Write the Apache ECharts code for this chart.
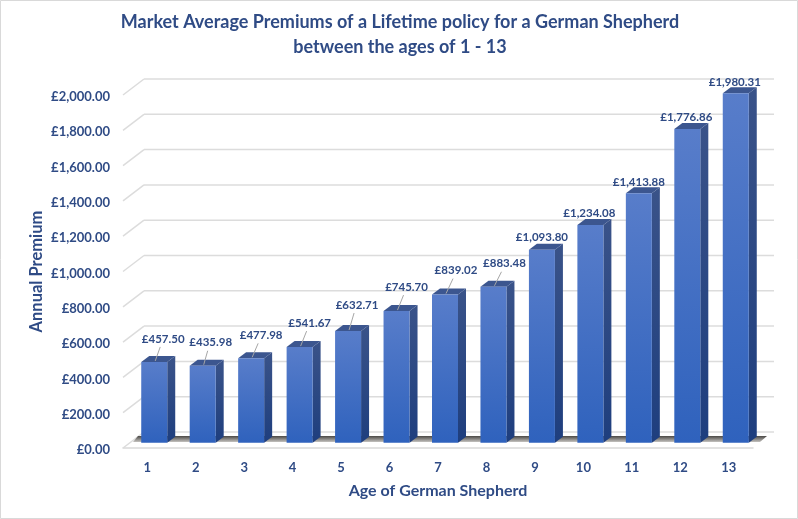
<!DOCTYPE html>
<html>
<head>
<meta charset="utf-8">
<style>
  html, body { margin: 0; padding: 0; background: #fff; }
  #chart { width: 798px; height: 519px; }
</style>
<script src="https://cdn.jsdelivr.net/npm/echarts@6/dist/echarts.min.js"></script>
</head>
<body>
<div id="chart"></div>
<script>
const ages = ['1', '2', '3', '4', '5', '6', '7', '8', '9', '10', '11', '12', '13'];
const premiums = [457.50, 435.98, 477.98, 541.67, 632.71, 745.70, 839.02, 883.48, 1093.80, 1234.08, 1413.88, 1776.86, 1980.31];
const yTicks = [0, 200, 400, 600, 800, 1000, 1200, 1400, 1600, 1800, 2000];
// label offset from the top of each bar, [dx, dy]
const labelShift = [[7, -23], [6, -23], [8, -23], [8, -24], [7, -26], [8, -24], [9, -24], [9, -23], [-2, -12], [-3, -12], [-2, -11], [-3, -12], [-3, -11]];
const hasLeader = [true, true, true, true, true, true, true, true, false, false, false, false, false];

const FONT = 'Lato, "Open Sans", sans-serif';
const NAVY = '#2f4b85';
const WALL = [21, -16];  // floor depth, front edge to back wall
const BAR_IN = [7, -5.3];  // bar front face sits this far inside the floor
const BAR_W = 26;
const BAR_DX = 8;
const BAR_DY = -6;

function money(v) {
  return '£' + v.toLocaleString('en-GB', {minimumFractionDigits: 2, maximumFractionDigits: 2});
}

function fade(a, b) {
  return new echarts.graphic.LinearGradient(0, 0, 0, 1, [{offset: 0, color: a}, {offset: 1, color: b}]);
}

// left wall diagonal + back wall gridline for one tick
function renderWall(params, api) {
  const box = params.coordSys;
  const y = api.coord([0, api.value(0)])[1];
  const style = {stroke: '#dcdcdc', lineWidth: 1.5};
  return {
    type: 'group',
    children: [
      {type: 'line', shape: {x1: box.x, y1: y, x2: box.x + WALL[0], y2: y + WALL[1]}, style: style},
      {type: 'line', shape: {x1: box.x + WALL[0], y1: y + WALL[1], x2: box.x + box.width + WALL[0], y2: y + WALL[1]}, style: style}
    ]
  };
}

// shadow on the floor, only one item
function renderShadow(params, api) {
  const box = params.coordSys;
  const y = api.coord([0, 0])[1];
  return {
    type: 'polygon',
    shape: {points: [
      [box.x + 10, y - 6], [box.x + 15, y - 12],
      [box.x + box.width + 14, y - 12], [box.x + box.width + 7, y - 6]
    ]},
    style: {fill: fade('#4a4845', '#c4c2bf')}
  };
}

function renderBar(params, api) {
  const i = api.value(0);
  const v = api.value(1);
  const top = api.coord([i, v]);
  const base = api.coord([i, 0]);
  const x0 = top[0] + BAR_IN[0] - BAR_W / 2;
  const x1 = x0 + BAR_W;
  const y0 = top[1] + BAR_IN[1];
  const y1 = base[1] + BAR_IN[1];
  const shift = labelShift[i];
  const lx = top[0] + BAR_IN[0] + shift[0] + 2;
  const ly = y0 + shift[1];
  const children = [
    {type: 'polygon', shape: {points: [[x1, y0], [x1 + BAR_DX, y0 + BAR_DY], [x1 + BAR_DX, y1 + BAR_DY], [x1, y1]]},
      style: {fill: fade('#3a5389', '#1e3e7e')}},
    {type: 'polygon', shape: {points: [[x0, y0], [x0 + BAR_DX, y0 + BAR_DY], [x1 + BAR_DX, y0 + BAR_DY], [x1, y0]]},
      style: {fill: '#3c568f'}},
    {type: 'rect', shape: {x: x0, y: y0, width: BAR_W, height: y1 - y0},
      style: {fill: fade('#587dca', '#2f62bd')}}
  ];
  if (hasLeader[i]) {
    children.push({type: 'line', shape: {x1: x0 + 14, y1: y0 - 1, x2: lx - 3, y2: ly + 8},
      style: {stroke: '#a6a6a6', lineWidth: 1}});
  }
  children.push({type: 'text', style: {
    x: lx, y: ly, text: money(v), align: 'center', verticalAlign: 'middle',
    font: 'bold 11.5px ' + FONT, fill: NAVY
  }});
  return {type: 'group', children: children};
}

const myChart = echarts.init(document.getElementById('chart'));
myChart.setOption({
  animation: false,
  backgroundColor: '#fff',
  title: {
    text: 'Market Average Premiums of a Lifetime policy for a German Shepherd\nbetween the ages of 1 - 13',
    left: 395,
    top: 5,
    textAlign: 'center',
    textStyle: {fontFamily: FONT, fontSize: 18, fontWeight: 'bold', color: NAVY, lineHeight: 25}
  },
  grid: {left: 123, right: 45, top: 95, bottom: 71},
  xAxis: {
    type: 'category',
    data: ages,
    name: 'Age of German Shepherd',
    nameLocation: 'middle',
    nameGap: 35,
    nameMoveOverlap: false,
    nameTextStyle: {fontFamily: FONT, fontSize: 16, fontWeight: 'bold', color: NAVY},
    axisLine: {show: true, lineStyle: {color: '#d9d9d9', width: 1.5}},
    axisTick: {show: false},
    axisLabel: {margin: 13, fontFamily: FONT, fontSize: 13, fontWeight: 'bold', color: NAVY}
  },
  yAxis: {
    type: 'value',
    min: 0,
    max: 2000,
    interval: 200,
    name: 'Annual Premium',
    nameLocation: 'middle',
    nameGap: 78,
    nameMoveOverlap: false,
    nameTextStyle: {fontFamily: FONT, fontSize: 16.5, fontWeight: 'bold', color: NAVY},
    axisLine: {show: false},
    axisTick: {show: false},
    splitLine: {show: false},
    axisLabel: {margin: 13, verticalAlign: 'top', lineHeight: 4, fontFamily: FONT, fontSize: 13, fontWeight: 'bold', color: NAVY, formatter: money}
  },
  series: [
    {type: 'custom', renderItem: renderWall, data: yTicks.map(function(v) { return [v]; }), clip: false, silent: true, z: 1,
      encode: {x: -1, y: 0}},
    {type: 'custom', renderItem: renderShadow, data: [[0]], clip: false, silent: true, z: 2, encode: {x: -1, y: 0}},
    {type: 'custom', renderItem: renderBar, data: premiums.map(function(v, i) { return [i, v]; }), clip: false, silent: true, z: 3,
      encode: {x: 0, y: 1}}
  ],
  graphic: [{
    type: 'rect',
    shape: {x: 0.5, y: 0.5, width: 797, height: 518},
    style: {fill: 'none', stroke: '#d9d9d9', lineWidth: 1},
    silent: true
  }]
});
</script>
</body>
</html>
